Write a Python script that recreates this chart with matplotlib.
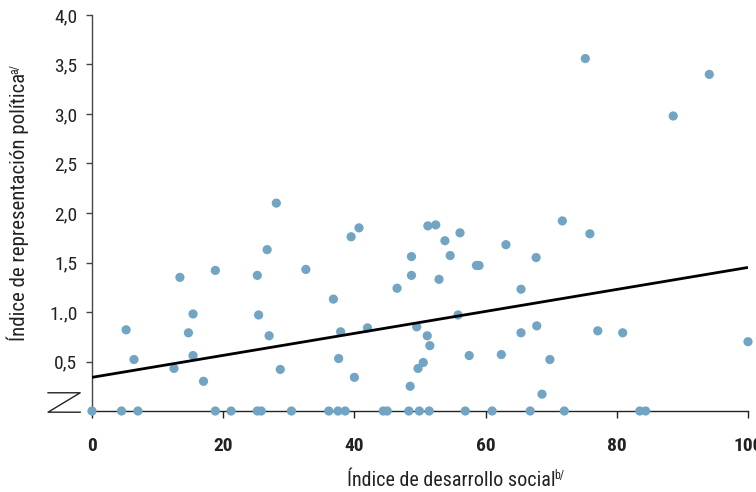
import matplotlib
matplotlib.use("Agg")
import matplotlib.pyplot as plt
from matplotlib import font_manager

# pick a condensed sans family if one is installed
entries = font_manager.fontManager.ttflist
names = {f.name for f in entries}
fam, stretch = "DejaVu Sans", "normal"
for cand in ["Liberation Sans Narrow", "Roboto Condensed", "Open Sans Condensed",
             "Noto Sans Condensed", "DejaVu Sans Condensed"]:
    if cand in names:
        fam = cand
        break
else:
    cond = [f for f in entries if str(f.stretch) in ("condensed", "semi-condensed", "575", "625", "700")]
    pref = ["Noto Sans", "Open Sans", "Roboto", "DejaVu Sans", "Lato", "Inter"]
    cond.sort(key=lambda f: pref.index(f.name) if f.name in pref else 99)
    if cond:
        fam, stretch = cond[0].name, str(cond[0].stretch)

plt.rcParams['font.family'] = [fam, 'DejaVu Sans']
plt.rcParams['font.stretch'] = stretch

# Data: social development index (x) vs political representation index (y)
dev_index = [0.0, 4.5, 7.0, 18.8, 21.2, 25.2, 25.8, 30.4, 36.1, 37.5, 38.6, 44.4, 45.0,
             48.3, 49.9, 51.4, 56.9, 61.0, 66.8, 72.0, 83.5, 84.4,
             5.2, 6.4, 12.5, 13.4, 14.7, 15.4, 15.4, 17.0, 18.8, 25.2, 25.4, 26.7, 27.0,
             28.1, 28.7, 32.6, 36.8, 37.6, 37.9, 39.5, 40.7, 40.0, 42.0, 46.5, 48.7, 48.7,
             48.5, 49.5, 49.7, 50.5, 51.1, 51.5, 51.2, 52.4, 52.9, 53.8, 54.6, 56.1, 55.8,
             57.5, 58.6, 59.0, 62.4, 63.1, 65.4, 65.4, 67.8, 67.7, 68.6, 69.8, 71.7, 75.2,
             75.9, 77.1, 80.9, 88.6, 94.1, 100.0]
rep_index = [0, 0, 0, 0, 0, 0, 0, 0, 0, 0, 0, 0, 0,
             0, 0, 0, 0, 0, 0, 0, 0, 0,
             0.82, 0.52, 0.43, 1.35, 0.79, 0.98, 0.56, 0.30, 1.42, 1.37, 0.97, 1.63, 0.76,
             2.10, 0.42, 1.43, 1.13, 0.53, 0.80, 1.76, 1.85, 0.34, 0.84, 1.24, 1.56, 1.37,
             0.25, 0.85, 0.43, 0.49, 0.76, 0.66, 1.87, 1.88, 1.33, 1.72, 1.57, 1.80, 0.97,
             0.56, 1.47, 1.47, 0.57, 1.68, 1.23, 0.79, 0.86, 1.55, 0.17, 0.52, 1.92, 3.56,
             1.79, 0.81, 0.79, 2.98, 3.40, 0.70]

trend_x = [0, 100]
trend_y = [0.34, 1.45]

x_ticks = [0, 20, 40, 60, 80, 100]
x_labels = ["0", "20", "40", "60", "80", "100"]
y_ticks = [0.5, 1.0, 1.5, 2.0, 2.5, 3.0, 3.5, 4.0]
y_labels = ["0,5", "1.,0", "1,5", "2,0", "2,5", "3,0", "3,5", "4,0"]

x_title, x_note = "Índice de desarrollo social", "b/"
y_title, y_note = "Índice de representación política", "a/"

W, H = 756, 492
fig = plt.figure(figsize=(W / 100, H / 100), dpi=100)
ax = fig.add_axes([92 / W, (H - 411) / H, 656 / W, 396 / H])

ax.scatter(dev_index, rep_index, s=44, color="#72A5C4", edgecolors="none",
           zorder=3, clip_on=False)
ax.plot(trend_x, trend_y, color="black", lw=2.0, zorder=4, solid_capstyle="butt")

ax.set_xlim(0, 100)
ax.set_ylim(0, 4.0)

for s in ("top", "right"):
    ax.spines[s].set_visible(False)
for s in ("left", "bottom"):
    ax.spines[s].set_color("#222222")
    ax.spines[s].set_linewidth(1.0)
ax.spines["left"].set_color("#444444")

ax.set_xticks(x_ticks)
ax.set_xticklabels(x_labels, fontweight="bold", fontsize=14)
ax.set_yticks(y_ticks)
ax.set_yticklabels(y_labels, fontsize=14)
ax.tick_params(axis="x", direction="out", length=5, width=1, pad=14, colors="#222222",
               labelcolor="#222222")
ax.tick_params(axis="y", direction="out", length=4.5, width=1, pad=6, colors="#444444",
               labelcolor="#222222")

# axis break symbol
bx = [-0.018, -0.067, -0.018, -0.067]
by = [0.046, 0.046, -0.003, -0.003]
ax.plot([bx[1], bx[0], bx[3], bx[2]], [by[1], by[0], by[3], by[2]],
        transform=ax.transAxes, color="#222222", lw=1.0, clip_on=False)

# axis titles with small superscript notes
renderer = fig.canvas.get_renderer()
tx = fig.text(347 / W, 1 - 486 / H, x_title, fontsize=14.5, ha="left", va="baseline",
              color="#222222")
bb = tx.get_window_extent(renderer)
fig.text((bb.x1 - 1) / W, 1 - 479 / H, x_note, fontsize=8.5, ha="left",
         va="baseline", color="#222222")

ty = fig.text(25 / W, 1 - 341 / H, y_title, fontsize=15, ha="left", va="baseline",
              rotation=90, rotation_mode="anchor", color="#222222")
bb = ty.get_window_extent(renderer)
fig.text(18 / W, (bb.y1 - 1) / H, y_note, fontsize=8.5, ha="left", va="baseline",
         rotation=90, rotation_mode="anchor", color="#222222")

fig.savefig("out.png", dpi=100)
